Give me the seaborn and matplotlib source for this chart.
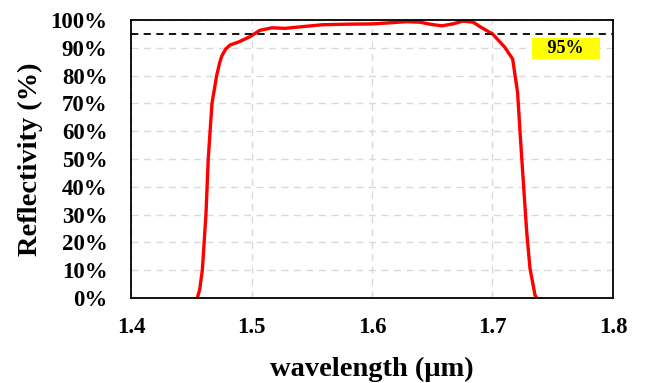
import numpy as np
import pandas as pd
import matplotlib
matplotlib.use("Agg")
import matplotlib.pyplot as plt
import seaborn as sns

# ----------------------------------------
# DATA
# ----------------------------------------
wavelength = [1.455, 1.457, 1.4592, 1.4622, 1.4641, 1.4672, 1.4711, 1.4735, 1.4753, 1.4785,
              1.4822, 1.4888, 1.4988, 1.507, 1.517, 1.528, 1.542, 1.559, 1.58,
              1.601, 1.615, 1.629, 1.64, 1.648, 1.658, 1.667, 1.6755, 1.684, 1.69,
              1.70, 1.71, 1.7167, 1.7208, 1.7228, 1.7256, 1.7284, 1.7311, 1.7353, 1.7367]
reflectivity = [0, 3, 10, 30, 50, 70, 80, 84.5, 87, 89.5,
                91, 92, 94, 96.3, 97.2, 97, 97.6, 98.3, 98.5,
                98.6, 99.0, 99.4, 99.2, 98.5, 97.9, 98.6, 99.6, 99.2, 97.5,
                95, 90.3, 86, 74, 60, 41.7, 23.7, 10.7, 1, 0]
threshold = 95
threshold_label = "95%"
x_ticks = [1.4, 1.5, 1.6, 1.7, 1.8]
y_ticks = list(range(0, 101, 10))

df = pd.DataFrame({"wavelength": wavelength, "reflectivity": reflectivity})

# ----------------------------------------
# PLOT
# ----------------------------------------
sns.set_style("white")
plt.rcParams["font.family"] = ["Liberation Serif", "DejaVu Serif"]
plt.rcParams["font.weight"] = "bold"
plt.rcParams["text.color"] = "black"
plt.rcParams["axes.labelcolor"] = "black"
plt.rcParams["xtick.color"] = "black"
plt.rcParams["ytick.color"] = "black"

fig = plt.figure(figsize=(6.52, 3.83), dpi=100)
ax = fig.add_axes([131 / 652, 1 - 298 / 383, 482 / 652, 278 / 383])

ax.grid(True, color="#d9d9d9", linestyle=(0, (5, 4)), linewidth=1)
ax.set_axisbelow(True)

sns.lineplot(data=df, x="wavelength", y="reflectivity", color="red",
             linewidth=2.4, ax=ax, sort=False)
ax.axhline(threshold, color="black", linestyle=(0, (4, 3)), linewidth=1.3)

ax.text(1.761, 90.4, "   " + threshold_label + "   ", ha="center", va="center_baseline",
        fontsize=13, fontweight="bold", color="black",
        bbox=dict(facecolor="yellow", edgecolor="none", pad=1.5))

ax.set_xlim(1.4, 1.8)
ax.set_ylim(0, 100)
ax.set_xticks(x_ticks)
ax.set_xticklabels([f"{t:.1f}" for t in x_ticks])
ax.set_yticks(y_ticks)
ax.set_yticklabels([f"{t}%" for t in y_ticks])
ax.tick_params(axis="both", direction="in", length=6, width=1.2, color="black",
               labelcolor="black", labelsize=16.5, pad=17)
ax.tick_params(axis="x", pad=14)
for lbl in ax.get_xticklabels() + ax.get_yticklabels():
    lbl.set_fontweight("bold")

for side in ["left", "right", "top", "bottom"]:
    ax.spines[side].set_visible(True)
    ax.spines[side].set_color("black")
    ax.spines[side].set_linewidth(1.3)

ax.set_xlabel("wavelength (μm)", fontsize=20.5, fontweight="bold", labelpad=13)
ax.set_ylabel("Reflectivity (%)", fontsize=20.5, fontweight="bold", labelpad=5)

fig.savefig("out.png", dpi=100)
